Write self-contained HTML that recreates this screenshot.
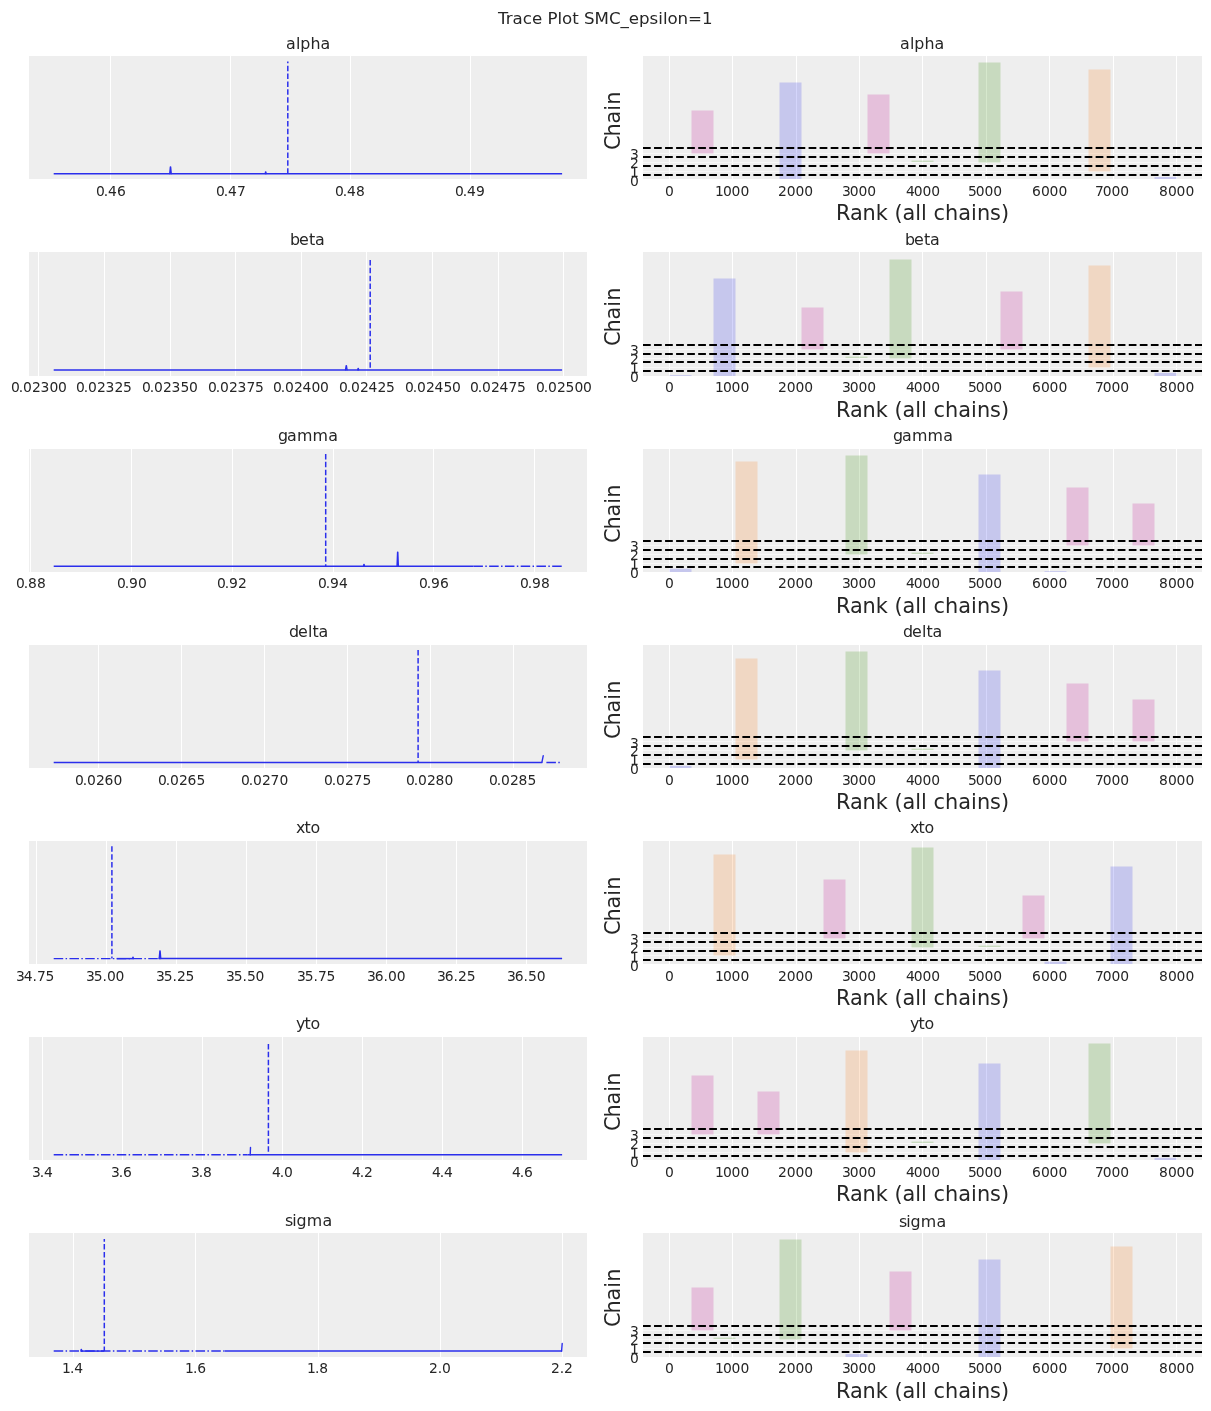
<!DOCTYPE html>
<html lang="en">
<head>
<meta charset="utf-8">
<title>Trace Plot SMC_epsilon=1</title>
<style>
html,body{margin:0;padding:0;background:#fff;}
body{width:1211px;height:1411px;overflow:hidden;}
svg{display:block;}
text{white-space:pre;}
</style>
</head>
<body>
<svg width="1211" height="1411" viewBox="0 0 1211 1411" role="img" aria-label="Trace Plot SMC_epsilon=1" font-family='"DejaVu Sans", "Liberation Sans", sans-serif' fill="#262626">
<rect width="1211" height="1411" fill="#ffffff"/>
<defs>
<clipPath id="cl0"><rect x="29" y="56" width="558" height="123"/></clipPath>
<clipPath id="cr0"><rect x="643" y="56" width="559" height="123"/></clipPath>
<clipPath id="cl1"><rect x="29" y="252" width="558" height="124"/></clipPath>
<clipPath id="cr1"><rect x="643" y="252" width="559" height="124"/></clipPath>
<clipPath id="cl2"><rect x="29" y="449" width="558" height="123"/></clipPath>
<clipPath id="cr2"><rect x="643" y="449" width="559" height="123"/></clipPath>
<clipPath id="cl3"><rect x="29" y="645" width="558" height="123"/></clipPath>
<clipPath id="cr3"><rect x="643" y="645" width="559" height="123"/></clipPath>
<clipPath id="cl4"><rect x="29" y="841" width="558" height="123"/></clipPath>
<clipPath id="cr4"><rect x="643" y="841" width="559" height="123"/></clipPath>
<clipPath id="cl5"><rect x="29" y="1037" width="558" height="123"/></clipPath>
<clipPath id="cr5"><rect x="643" y="1037" width="559" height="123"/></clipPath>
<clipPath id="cl6"><rect x="29" y="1233" width="558" height="124"/></clipPath>
<clipPath id="cr6"><rect x="643" y="1233" width="559" height="124"/></clipPath>
</defs>
<text x="498 505.75 512.62 522.75 531.88 542.12 547.38 557.5 562.12 572.25 578.75 584 594.5 608.88 620.38 628.75 639 649.5 658.25 662.88 667.5 677.62 688.12 702" y="24" font-size="16.67">Trace Plot SMC_epsilon=1</text>
<g id="row0">
<rect x="29" y="56" width="558" height="123" fill="#eeeeee"/>
<g clip-path="url(#cl0)">
<path d="M110.5 56V179M230.5 56V179M350.5 56V179M470.5 56V179" stroke="#fff" stroke-width="1.1" fill="none"/>
<path d="M53.7 173.7H562.1" stroke="#2a2eec" stroke-width="1.5" fill="none"/>
<path d="M169.7 173.7L170.35 166.8L170.65 166.8L171.3 173.7" fill="none" stroke="#2a2eec" stroke-width="1.3" stroke-linejoin="round" stroke-linecap="round"/>
<path d="M265.2 173.7L265.55 171.9L265.85 171.9L266.2 173.7" fill="none" stroke="#2a2eec" stroke-width="1.3" stroke-linejoin="round" stroke-linecap="round"/>
<path d="M287.8 61.6V173.7" stroke="#2a2eec" stroke-width="1.49" stroke-dasharray="5.5 2.38" stroke-dashoffset="3.75" fill="none"/>
</g>
<text x="286 295.88 300.25 310.38 320.5" y="49" font-size="15.87">alpha</text>
<text x="96 103.75 108.12 116.88" y="196" font-size="13.89">0.46</text>
<text x="216 223.75 228.12 236.88" y="196" font-size="13.89">0.47</text>
<text x="335 342.75 347.12 355.88" y="196" font-size="13.89">0.48</text>
<text x="455 462.75 467.12 475.88" y="196" font-size="13.89">0.49</text>
<rect x="643" y="56" width="559" height="123" fill="#eeeeee"/>
<g clip-path="url(#cr0)">
<path d="M669.5 56V179M732.5 56V179M796.5 56V179M859.5 56V179M922.5 56V179M986.5 56V179M1049.5 56V179M1113.5 56V179M1176.5 56V179" stroke="#fff" stroke-width="1.1" fill="none"/>
<path d="M643 153.5H1202M643 162.5H1202M643 171.5H1202" stroke="#f7f7f7" stroke-width="1.1" fill="none"/>
<rect x="691.5" y="110.5" width="22" height="43" fill="#c10c90" fill-opacity="0.2"/>
<rect x="779.5" y="82.5" width="22" height="98.5" fill="#2a2eec" fill-opacity="0.2"/>
<rect x="867.5" y="94.5" width="22" height="59" fill="#c10c90" fill-opacity="0.2"/>
<rect x="911.5" y="160.6" width="22" height="1.4" fill="#328c06" fill-opacity="0.2"/>
<rect x="978.5" y="62.5" width="22" height="100" fill="#328c06" fill-opacity="0.2"/>
<rect x="1088.5" y="69.5" width="22" height="102" fill="#fa7c17" fill-opacity="0.2"/>
<rect x="1154.5" y="177" width="22" height="4" fill="#2a2eec" fill-opacity="0.2"/>
<path d="M643 148H1202M643 157H1202M643 166H1202M643 175H1202" stroke="#000" stroke-width="2.08" stroke-dasharray="7.71 3.33" fill="none"/>
</g>
<text x="900 909.88 914.25 924.38 934.5" y="49" font-size="15.87">alpha</text>
<text x="665" y="196" font-size="13.89">0</text>
<text x="715 722.88 731.62 740.38" y="196" font-size="13.89">1000</text>
<text x="778 786.75 795.5 804.25" y="196" font-size="13.89">2000</text>
<text x="842 849.75 858.5 867.25" y="196" font-size="13.89">3000</text>
<text x="906 913.75 922.5 931.25" y="196" font-size="13.89">4000</text>
<text x="968 975.75 984.5 993.25" y="196" font-size="13.89">5000</text>
<text x="1032 1040.88 1049.62 1058.38" y="196" font-size="13.89">6000</text>
<text x="1095 1102.75 1111.5 1120.25" y="196" font-size="13.89">7000</text>
<text x="1159 1167.88 1176.62 1185.38" y="196" font-size="13.89">8000</text>
<text x="638.8" y="185.8" font-size="13.89" text-anchor="end">0</text>
<text x="638.8" y="176.8" font-size="13.89" text-anchor="end">1</text>
<text x="638.8" y="167.8" font-size="13.89" text-anchor="end">2</text>
<text x="638.8" y="158.8" font-size="13.89" text-anchor="end">3</text>
<text x="836 849.88 862.62 875.75 887.75 894.38 902.5 915.25 921.12 927 933.62 945.12 958.25 971 976.88 990 1000.88" y="220" font-size="20.83">Rank (all chains)</text>
<text transform="translate(620 149) rotate(-90)" x="-1 12.5 25.62 38.38 44.25" y="0" font-size="20.83">Chain</text>
</g>
<g id="row1">
<rect x="29" y="252" width="558" height="124" fill="#eeeeee"/>
<g clip-path="url(#cl1)">
<path d="M38.5 252V376M104.5 252V376M170.5 252V376M235.5 252V376M301.5 252V376M366.5 252V376M432.5 252V376M498.5 252V376M563.5 252V376" stroke="#fff" stroke-width="1.1" fill="none"/>
<path d="M53.7 369.93H562.1" stroke="#2a2eec" stroke-width="1.5" fill="none"/>
<path d="M345.5 369.93L346.15 365.53L346.45 365.53L347.1 369.93" fill="none" stroke="#2a2eec" stroke-width="1.3" stroke-linejoin="round" stroke-linecap="round"/>
<path d="M357.7 369.93L358.05 368.33L358.35 368.33L358.7 369.93" fill="none" stroke="#2a2eec" stroke-width="1.3" stroke-linejoin="round" stroke-linecap="round"/>
<path d="M370.2 257.83V369.93" stroke="#2a2eec" stroke-width="1.49" stroke-dasharray="5.5 2.38" stroke-dashoffset="5.81" fill="none"/>
</g>
<text x="290 299.12 309 315.12" y="245" font-size="15.87">beta</text>
<text x="11 18.75 23.12 31.88 40.62 49.38 58.12" y="392" font-size="13.89">0.02300</text>
<text x="76 83.75 88.12 96.88 105.62 114.38 123.12" y="392" font-size="13.89">0.02325</text>
<text x="142 149.75 154.12 162.88 171.62 180.38 189.12" y="392" font-size="13.89">0.02350</text>
<text x="208 215.75 220.12 228.88 237.62 246.38 255.12" y="392" font-size="13.89">0.02375</text>
<text x="273 280.75 285.12 293.88 302.62 311.38 320.12" y="392" font-size="13.89">0.02400</text>
<text x="339 346.75 351.12 359.88 368.62 377.38 386.12" y="392" font-size="13.89">0.02425</text>
<text x="405 412.75 417.12 425.88 434.62 443.38 452.12" y="392" font-size="13.89">0.02450</text>
<text x="470 477.75 482.12 490.88 499.62 508.38 517.12" y="392" font-size="13.89">0.02475</text>
<text x="536 543.75 548.12 556.88 565.62 574.38 583.12" y="392" font-size="13.89">0.02500</text>
<rect x="643" y="252" width="559" height="124" fill="#eeeeee"/>
<g clip-path="url(#cr1)">
<path d="M669.5 252V376M732.5 252V376M796.5 252V376M859.5 252V376M922.5 252V376M986.5 252V376M1049.5 252V376M1113.5 252V376M1176.5 252V376" stroke="#fff" stroke-width="1.1" fill="none"/>
<path d="M643 349.5H1202M643 358.5H1202M643 367.5H1202" stroke="#f7f7f7" stroke-width="1.1" fill="none"/>
<rect x="669.5" y="375.15" width="22" height="2.85" fill="#2a2eec" fill-opacity="0.2"/>
<rect x="713.5" y="278.5" width="22" height="99.5" fill="#2a2eec" fill-opacity="0.2"/>
<rect x="801.5" y="307.5" width="22" height="42" fill="#c10c90" fill-opacity="0.2"/>
<rect x="845.5" y="356.6" width="22" height="1.4" fill="#328c06" fill-opacity="0.2"/>
<rect x="889.5" y="259.5" width="22" height="99" fill="#328c06" fill-opacity="0.2"/>
<rect x="1000.5" y="291.5" width="22" height="58" fill="#c10c90" fill-opacity="0.2"/>
<rect x="1088.5" y="265.5" width="22" height="102" fill="#fa7c17" fill-opacity="0.2"/>
<rect x="1154.5" y="372.9" width="22" height="5.1" fill="#2a2eec" fill-opacity="0.2"/>
<path d="M643 345H1202M643 354H1202M643 362H1202M643 371H1202" stroke="#000" stroke-width="2.08" stroke-dasharray="7.71 3.33" fill="none"/>
</g>
<text x="905 914.12 924 930.12" y="245" font-size="15.87">beta</text>
<text x="665" y="392" font-size="13.89">0</text>
<text x="715 722.88 731.62 740.38" y="392" font-size="13.89">1000</text>
<text x="778 786.75 795.5 804.25" y="392" font-size="13.89">2000</text>
<text x="842 849.75 858.5 867.25" y="392" font-size="13.89">3000</text>
<text x="906 913.75 922.5 931.25" y="392" font-size="13.89">4000</text>
<text x="968 975.75 984.5 993.25" y="392" font-size="13.89">5000</text>
<text x="1032 1040.88 1049.62 1058.38" y="392" font-size="13.89">6000</text>
<text x="1095 1102.75 1111.5 1120.25" y="392" font-size="13.89">7000</text>
<text x="1159 1167.88 1176.62 1185.38" y="392" font-size="13.89">8000</text>
<text x="638.8" y="381.85" font-size="13.89" text-anchor="end">0</text>
<text x="638.8" y="372.8" font-size="13.89" text-anchor="end">1</text>
<text x="638.8" y="363.75" font-size="13.89" text-anchor="end">2</text>
<text x="638.8" y="354.7" font-size="13.89" text-anchor="end">3</text>
<text x="836 849.88 862.62 875.75 887.75 894.38 902.5 915.25 921.12 927 933.62 945.12 958.25 971 976.88 990 1000.88" y="417" font-size="20.83">Rank (all chains)</text>
<text transform="translate(620 345) rotate(-90)" x="-1 12.5 25.62 38.38 44.25" y="0" font-size="20.83">Chain</text>
</g>
<g id="row2">
<rect x="29" y="449" width="558" height="123" fill="#eeeeee"/>
<g clip-path="url(#cl2)">
<path d="M30.5 449V572M131.5 449V572M232.5 449V572M333.5 449V572M433.5 449V572M534.5 449V572" stroke="#fff" stroke-width="1.1" fill="none"/>
<path d="M473.4 566.16H562.1" stroke="#2a2eec" stroke-width="1.49" stroke-dasharray="9.51 2.38 1.49 2.38" fill="none"/>
<path d="M53.7 566.16H473.4" stroke="#2a2eec" stroke-width="1.5" fill="none"/>
<path d="M397 566.16L397.55 552.06L397.85 552.06L398.4 566.16" fill="none" stroke="#2a2eec" stroke-width="1.3" stroke-linejoin="round" stroke-linecap="round"/>
<path d="M363.5 566.16L363.85 564.46L364.15 564.46L364.5 566.16" fill="none" stroke="#2a2eec" stroke-width="1.3" stroke-linejoin="round" stroke-linecap="round"/>
<path d="M325.7 453.93V566.16" stroke="#2a2eec" stroke-width="1.49" stroke-dasharray="5.5 2.38" stroke-dashoffset="0" fill="none"/>
</g>
<text x="278 287.12 297 312.62 328.25" y="441" font-size="15.87">gamma</text>
<text x="16 23.75 28.12 37" y="588" font-size="13.89">0.88</text>
<text x="117 124.75 129.12 138" y="588" font-size="13.89">0.90</text>
<text x="217 224.75 229.12 238" y="588" font-size="13.89">0.92</text>
<text x="318 325.75 330.12 339" y="588" font-size="13.89">0.94</text>
<text x="419 426.75 431.12 440" y="588" font-size="13.89">0.96</text>
<text x="520 527.75 532.12 541" y="588" font-size="13.89">0.98</text>
<rect x="643" y="449" width="559" height="123" fill="#eeeeee"/>
<g clip-path="url(#cr2)">
<path d="M669.5 449V572M732.5 449V572M796.5 449V572M859.5 449V572M922.5 449V572M986.5 449V572M1049.5 449V572M1113.5 449V572M1176.5 449V572" stroke="#fff" stroke-width="1.1" fill="none"/>
<path d="M643 545.5H1202M643 554.5H1202M643 563.5H1202" stroke="#f7f7f7" stroke-width="1.1" fill="none"/>
<rect x="669.5" y="568.7" width="22" height="5.3" fill="#2a2eec" fill-opacity="0.2"/>
<rect x="735.5" y="461.5" width="22" height="102" fill="#fa7c17" fill-opacity="0.2"/>
<rect x="845.5" y="455.5" width="22" height="99" fill="#328c06" fill-opacity="0.2"/>
<rect x="911.5" y="552.6" width="22" height="1.4" fill="#328c06" fill-opacity="0.2"/>
<rect x="978.5" y="474.5" width="22" height="99.5" fill="#2a2eec" fill-opacity="0.2"/>
<rect x="1044.5" y="571.15" width="22" height="2.85" fill="#2a2eec" fill-opacity="0.2"/>
<rect x="1066.5" y="487.5" width="22" height="58" fill="#c10c90" fill-opacity="0.2"/>
<rect x="1132.5" y="503.5" width="22" height="42" fill="#c10c90" fill-opacity="0.2"/>
<path d="M643 541H1202M643 550H1202M643 559H1202M643 567H1202" stroke="#000" stroke-width="2.08" stroke-dasharray="7.71 3.33" fill="none"/>
</g>
<text x="893 902.12 912 927.62 943.25" y="441" font-size="15.87">gamma</text>
<text x="665" y="588" font-size="13.89">0</text>
<text x="715 722.88 731.62 740.38" y="588" font-size="13.89">1000</text>
<text x="778 786.75 795.5 804.25" y="588" font-size="13.89">2000</text>
<text x="842 849.75 858.5 867.25" y="588" font-size="13.89">3000</text>
<text x="906 913.75 922.5 931.25" y="588" font-size="13.89">4000</text>
<text x="968 975.75 984.5 993.25" y="588" font-size="13.89">5000</text>
<text x="1032 1040.88 1049.62 1058.38" y="588" font-size="13.89">6000</text>
<text x="1095 1102.75 1111.5 1120.25" y="588" font-size="13.89">7000</text>
<text x="1159 1167.88 1176.62 1185.38" y="588" font-size="13.89">8000</text>
<text x="638.8" y="577.85" font-size="13.89" text-anchor="end">0</text>
<text x="638.8" y="568.8" font-size="13.89" text-anchor="end">1</text>
<text x="638.8" y="559.75" font-size="13.89" text-anchor="end">2</text>
<text x="638.8" y="550.7" font-size="13.89" text-anchor="end">3</text>
<text x="836 849.88 862.62 875.75 887.75 894.38 902.5 915.25 921.12 927 933.62 945.12 958.25 971 976.88 990 1000.88" y="613" font-size="20.83">Rank (all chains)</text>
<text transform="translate(620 542) rotate(-90)" x="-1 12.5 25.62 38.38 44.25" y="0" font-size="20.83">Chain</text>
</g>
<g id="row3">
<rect x="29" y="645" width="558" height="123" fill="#eeeeee"/>
<g clip-path="url(#cl3)">
<path d="M98.5 645V768M181.5 645V768M264.5 645V768M347.5 645V768M430.5 645V768M513.5 645V768" stroke="#fff" stroke-width="1.1" fill="none"/>
<path d="M546.4 762.39H560.2" stroke="#2a2eec" stroke-width="1.49" stroke-dasharray="9.51 2.38 1.49 2.38" fill="none"/>
<path d="M53.7 762.39H542.3" stroke="#2a2eec" stroke-width="1.5" fill="none"/>
<path d="M541.9 762.39L543.2 755.79" fill="none" stroke="#2a2eec" stroke-width="1.4" stroke-linecap="round"/>
<path d="M418.1 650.1V762.39" stroke="#2a2eec" stroke-width="1.49" stroke-dasharray="5.5 2.38" stroke-dashoffset="0" fill="none"/>
</g>
<text x="289 298.12 308 312.38 318.5" y="637" font-size="15.87">delta</text>
<text x="75 82.75 87.12 95.88 104.62 113.5" y="785" font-size="13.89">0.0260</text>
<text x="158 165.75 170.12 178.88 187.62 196.5" y="785" font-size="13.89">0.0265</text>
<text x="241 248.75 253.12 261.88 270.62 279.38" y="785" font-size="13.89">0.0270</text>
<text x="324 331.75 336.12 344.88 353.62 362.38" y="785" font-size="13.89">0.0275</text>
<text x="406 413.75 418.12 426.88 435.62 444.5" y="785" font-size="13.89">0.0280</text>
<text x="489 496.75 501.12 509.88 518.62 527.5" y="785" font-size="13.89">0.0285</text>
<rect x="643" y="645" width="559" height="123" fill="#eeeeee"/>
<g clip-path="url(#cr3)">
<path d="M669.5 645V768M732.5 645V768M796.5 645V768M859.5 645V768M922.5 645V768M986.5 645V768M1049.5 645V768M1113.5 645V768M1176.5 645V768" stroke="#fff" stroke-width="1.1" fill="none"/>
<path d="M643 741.5H1202M643 750.5H1202M643 759.5H1202" stroke="#f7f7f7" stroke-width="1.1" fill="none"/>
<rect x="669.5" y="765.9" width="22" height="4.1" fill="#2a2eec" fill-opacity="0.2"/>
<rect x="735.5" y="658.5" width="22" height="101" fill="#fa7c17" fill-opacity="0.2"/>
<rect x="845.5" y="651.5" width="22" height="99" fill="#328c06" fill-opacity="0.2"/>
<rect x="911.5" y="748.6" width="22" height="1.4" fill="#328c06" fill-opacity="0.2"/>
<rect x="978.5" y="670.5" width="22" height="99.5" fill="#2a2eec" fill-opacity="0.2"/>
<rect x="1066.5" y="683.5" width="22" height="58" fill="#c10c90" fill-opacity="0.2"/>
<rect x="1132.5" y="699.5" width="22" height="42" fill="#c10c90" fill-opacity="0.2"/>
<path d="M643 737H1202M643 746H1202M643 755H1202M643 764H1202" stroke="#000" stroke-width="2.08" stroke-dasharray="7.71 3.33" fill="none"/>
</g>
<text x="903 912.12 922 926.38 932.5" y="637" font-size="15.87">delta</text>
<text x="665" y="785" font-size="13.89">0</text>
<text x="715 722.88 731.62 740.38" y="785" font-size="13.89">1000</text>
<text x="778 786.75 795.5 804.25" y="785" font-size="13.89">2000</text>
<text x="842 849.75 858.5 867.25" y="785" font-size="13.89">3000</text>
<text x="906 913.75 922.5 931.25" y="785" font-size="13.89">4000</text>
<text x="968 975.75 984.5 993.25" y="785" font-size="13.89">5000</text>
<text x="1032 1040.88 1049.62 1058.38" y="785" font-size="13.89">6000</text>
<text x="1095 1102.75 1111.5 1120.25" y="785" font-size="13.89">7000</text>
<text x="1159 1167.88 1176.62 1185.38" y="785" font-size="13.89">8000</text>
<text x="638.8" y="773.85" font-size="13.89" text-anchor="end">0</text>
<text x="638.8" y="765.17" font-size="13.89" text-anchor="end">1</text>
<text x="638.8" y="756.48" font-size="13.89" text-anchor="end">2</text>
<text x="638.8" y="747.8" font-size="13.89" text-anchor="end">3</text>
<text x="836 849.88 862.62 875.75 887.75 894.38 902.5 915.25 921.12 927 933.62 945.12 958.25 971 976.88 990 1000.88" y="809" font-size="20.83">Rank (all chains)</text>
<text transform="translate(620 738) rotate(-90)" x="-1 12.5 25.62 38.38 44.25" y="0" font-size="20.83">Chain</text>
</g>
<g id="row4">
<rect x="29" y="841" width="558" height="123" fill="#eeeeee"/>
<g clip-path="url(#cl4)">
<path d="M36.5 841V964M106.5 841V964M176.5 841V964M246.5 841V964M316.5 841V964M386.5 841V964M456.5 841V964M526.5 841V964" stroke="#fff" stroke-width="1.1" fill="none"/>
<path d="M53.7 958.62H158.5" stroke="#2a2eec" stroke-width="1.49" stroke-dasharray="9.51 2.38 1.49 2.38" fill="none"/>
<path d="M158.5 958.62H562.1" stroke="#2a2eec" stroke-width="1.5" fill="none"/>
<path d="M116.7 958.62H132.3" stroke="#2a2eec" stroke-width="1.5" fill="none"/>
<path d="M159.2 958.62L159.85 950.92L160.15 950.92L160.8 958.62" fill="none" stroke="#2a2eec" stroke-width="1.3" stroke-linejoin="round" stroke-linecap="round"/>
<path d="M132.5 958.62L132.85 957.22L133.15 957.22L133.5 958.62" fill="none" stroke="#2a2eec" stroke-width="1.3" stroke-linejoin="round" stroke-linecap="round"/>
<path d="M111.9 846.26V958.62" stroke="#2a2eec" stroke-width="1.49" stroke-dasharray="5.5 2.38" stroke-dashoffset="0" fill="none"/>
</g>
<text x="296 304.38 310.5" y="833" font-size="15.87">xto</text>
<text x="16 23.75 32.5 36.88 45.62" y="981" font-size="13.89">34.75</text>
<text x="86 93.75 102.5 106.88 115.62" y="981" font-size="13.89">35.00</text>
<text x="156 163.75 172.5 176.88 185.62" y="981" font-size="13.89">35.25</text>
<text x="226 233.75 242.5 246.88 255.62" y="981" font-size="13.89">35.50</text>
<text x="297 304.75 313.5 317.88 326.62" y="981" font-size="13.89">35.75</text>
<text x="367 374.75 383.62 388 396.75" y="981" font-size="13.89">36.00</text>
<text x="437 444.75 453.62 458 466.75" y="981" font-size="13.89">36.25</text>
<text x="507 514.75 523.62 528 536.75" y="981" font-size="13.89">36.50</text>
<rect x="643" y="841" width="559" height="123" fill="#eeeeee"/>
<g clip-path="url(#cr4)">
<path d="M669.5 841V964M732.5 841V964M796.5 841V964M859.5 841V964M922.5 841V964M986.5 841V964M1049.5 841V964M1113.5 841V964M1176.5 841V964" stroke="#fff" stroke-width="1.1" fill="none"/>
<path d="M643 938.5H1202M643 947.5H1202M643 955.5H1202" stroke="#f7f7f7" stroke-width="1.1" fill="none"/>
<rect x="713.5" y="854.5" width="22" height="101" fill="#fa7c17" fill-opacity="0.2"/>
<rect x="823.5" y="879.5" width="22" height="59" fill="#c10c90" fill-opacity="0.2"/>
<rect x="911.5" y="847.5" width="22" height="100" fill="#328c06" fill-opacity="0.2"/>
<rect x="978.5" y="945.6" width="22" height="1.4" fill="#328c06" fill-opacity="0.2"/>
<rect x="1022.5" y="895.5" width="22" height="43" fill="#c10c90" fill-opacity="0.2"/>
<rect x="1044.5" y="961.7" width="22" height="4.3" fill="#2a2eec" fill-opacity="0.2"/>
<rect x="1110.5" y="866.5" width="22" height="99.5" fill="#2a2eec" fill-opacity="0.2"/>
<path d="M643 933H1202M643 942H1202M643 951H1202M643 960H1202" stroke="#000" stroke-width="2.08" stroke-dasharray="7.71 3.33" fill="none"/>
</g>
<text x="910 918.38 924.5" y="833" font-size="15.87">xto</text>
<text x="665" y="981" font-size="13.89">0</text>
<text x="715 722.88 731.62 740.38" y="981" font-size="13.89">1000</text>
<text x="778 786.75 795.5 804.25" y="981" font-size="13.89">2000</text>
<text x="842 849.75 858.5 867.25" y="981" font-size="13.89">3000</text>
<text x="906 913.75 922.5 931.25" y="981" font-size="13.89">4000</text>
<text x="968 975.75 984.5 993.25" y="981" font-size="13.89">5000</text>
<text x="1032 1040.88 1049.62 1058.38" y="981" font-size="13.89">6000</text>
<text x="1095 1102.75 1111.5 1120.25" y="981" font-size="13.89">7000</text>
<text x="1159 1167.88 1176.62 1185.38" y="981" font-size="13.89">8000</text>
<text x="638.8" y="970.55" font-size="13.89" text-anchor="end">0</text>
<text x="638.8" y="961.63" font-size="13.89" text-anchor="end">1</text>
<text x="638.8" y="952.72" font-size="13.89" text-anchor="end">2</text>
<text x="638.8" y="943.8" font-size="13.89" text-anchor="end">3</text>
<text x="836 849.88 862.62 875.75 887.75 894.38 902.5 915.25 921.12 927 933.62 945.12 958.25 971 976.88 990 1000.88" y="1005" font-size="20.83">Rank (all chains)</text>
<text transform="translate(620 934) rotate(-90)" x="-1 12.5 25.62 38.38 44.25" y="0" font-size="20.83">Chain</text>
</g>
<g id="row5">
<rect x="29" y="1037" width="558" height="123" fill="#eeeeee"/>
<g clip-path="url(#cl5)">
<path d="M42.5 1037V1160M122.5 1037V1160M202.5 1037V1160M282.5 1037V1160M362.5 1037V1160M442.5 1037V1160M522.5 1037V1160" stroke="#fff" stroke-width="1.1" fill="none"/>
<path d="M53.7 1154.85H247.7" stroke="#2a2eec" stroke-width="1.49" stroke-dasharray="9.51 2.38 1.49 2.38" fill="none"/>
<path d="M247.7 1154.85H562.1" stroke="#2a2eec" stroke-width="1.5" fill="none"/>
<path d="M250.2 1154.85L250.5 1147.45" fill="none" stroke="#2a2eec" stroke-width="1.4" stroke-linecap="round"/>
<path d="M268.4 1042.75V1154.85" stroke="#2a2eec" stroke-width="1.49" stroke-dasharray="5.5 2.38" stroke-dashoffset="6.73" fill="none"/>
</g>
<text x="296 304.38 310.5" y="1029" font-size="15.87">yto</text>
<text x="32 39.75 44.12" y="1177" font-size="13.89">3.4</text>
<text x="111 118.75 123.12" y="1177" font-size="13.89">3.6</text>
<text x="191 198.75 203.12" y="1177" font-size="13.89">3.8</text>
<text x="272 279.75 284.12" y="1177" font-size="13.89">4.0</text>
<text x="352 359.75 364.12" y="1177" font-size="13.89">4.2</text>
<text x="432 439.75 444.12" y="1177" font-size="13.89">4.4</text>
<text x="512 519.75 524.12" y="1177" font-size="13.89">4.6</text>
<rect x="643" y="1037" width="559" height="123" fill="#eeeeee"/>
<g clip-path="url(#cr5)">
<path d="M669.5 1037V1160M732.5 1037V1160M796.5 1037V1160M859.5 1037V1160M922.5 1037V1160M986.5 1037V1160M1049.5 1037V1160M1113.5 1037V1160M1176.5 1037V1160" stroke="#fff" stroke-width="1.1" fill="none"/>
<path d="M643 1134.5H1202M643 1143.5H1202M643 1152.5H1202" stroke="#f7f7f7" stroke-width="1.1" fill="none"/>
<rect x="691.5" y="1075.5" width="22" height="59" fill="#c10c90" fill-opacity="0.2"/>
<rect x="757.5" y="1091.5" width="22" height="43" fill="#c10c90" fill-opacity="0.2"/>
<rect x="845.5" y="1050.5" width="22" height="102" fill="#fa7c17" fill-opacity="0.2"/>
<rect x="911.5" y="1141.6" width="22" height="1.4" fill="#328c06" fill-opacity="0.2"/>
<rect x="978.5" y="1063.5" width="22" height="98.5" fill="#2a2eec" fill-opacity="0.2"/>
<rect x="1088.5" y="1043.5" width="22" height="100" fill="#328c06" fill-opacity="0.2"/>
<rect x="1154.5" y="1157.9" width="22" height="4.1" fill="#2a2eec" fill-opacity="0.2"/>
<path d="M643 1129H1202M643 1138H1202M643 1147H1202M643 1156H1202" stroke="#000" stroke-width="2.08" stroke-dasharray="7.71 3.33" fill="none"/>
</g>
<text x="910 918.38 924.5" y="1029" font-size="15.87">yto</text>
<text x="665" y="1177" font-size="13.89">0</text>
<text x="715 722.88 731.62 740.38" y="1177" font-size="13.89">1000</text>
<text x="778 786.75 795.5 804.25" y="1177" font-size="13.89">2000</text>
<text x="842 849.75 858.5 867.25" y="1177" font-size="13.89">3000</text>
<text x="906 913.75 922.5 931.25" y="1177" font-size="13.89">4000</text>
<text x="968 975.75 984.5 993.25" y="1177" font-size="13.89">5000</text>
<text x="1032 1040.88 1049.62 1058.38" y="1177" font-size="13.89">6000</text>
<text x="1095 1102.75 1111.5 1120.25" y="1177" font-size="13.89">7000</text>
<text x="1159 1167.88 1176.62 1185.38" y="1177" font-size="13.89">8000</text>
<text x="638.8" y="1166.55" font-size="13.89" text-anchor="end">0</text>
<text x="638.8" y="1157.63" font-size="13.89" text-anchor="end">1</text>
<text x="638.8" y="1148.72" font-size="13.89" text-anchor="end">2</text>
<text x="638.8" y="1139.8" font-size="13.89" text-anchor="end">3</text>
<text x="836 849.88 862.62 875.75 887.75 894.38 902.5 915.25 921.12 927 933.62 945.12 958.25 971 976.88 990 1000.88" y="1201" font-size="20.83">Rank (all chains)</text>
<text transform="translate(620 1130) rotate(-90)" x="-1 12.5 25.62 38.38 44.25" y="0" font-size="20.83">Chain</text>
</g>
<g id="row6">
<rect x="29" y="1233" width="558" height="124" fill="#eeeeee"/>
<g clip-path="url(#cl6)">
<path d="M73.5 1233V1357M195.5 1233V1357M318.5 1233V1357M440.5 1233V1357M562.5 1233V1357" stroke="#fff" stroke-width="1.1" fill="none"/>
<path d="M53.7 1351.08H225" stroke="#2a2eec" stroke-width="1.49" stroke-dasharray="9.51 2.38 1.49 2.38" fill="none"/>
<path d="M225 1351.08H562.1" stroke="#2a2eec" stroke-width="1.5" fill="none"/>
<path d="M81 1351.08H104.3" stroke="#2a2eec" stroke-width="1.5" fill="none"/>
<path d="M80.8 1351.08L81.15 1349.48L81.45 1349.48L81.8 1351.08" fill="none" stroke="#2a2eec" stroke-width="1.3" stroke-linejoin="round" stroke-linecap="round"/>
<path d="M561.6 1351.08L562.2 1343.48" fill="none" stroke="#2a2eec" stroke-width="1.4" stroke-linecap="round"/>
<path d="M104.3 1238.98V1351.08" stroke="#2a2eec" stroke-width="1.49" stroke-dasharray="5.5 2.38" stroke-dashoffset="2.82" fill="none"/>
</g>
<text x="285 292.25 296.62 306.75 322.38" y="1226" font-size="15.87">sigma</text>
<text x="62 69.88 74.25" y="1373" font-size="13.89">1.4</text>
<text x="185 192.88 197.25" y="1373" font-size="13.89">1.6</text>
<text x="307 314.88 319.25" y="1373" font-size="13.89">1.8</text>
<text x="429 437.75 442.12" y="1373" font-size="13.89">2.0</text>
<text x="551 559.75 564.12" y="1373" font-size="13.89">2.2</text>
<rect x="643" y="1233" width="559" height="124" fill="#eeeeee"/>
<g clip-path="url(#cr6)">
<path d="M669.5 1233V1357M732.5 1233V1357M796.5 1233V1357M859.5 1233V1357M922.5 1233V1357M986.5 1233V1357M1049.5 1233V1357M1113.5 1233V1357M1176.5 1233V1357" stroke="#fff" stroke-width="1.1" fill="none"/>
<path d="M643 1330.5H1202M643 1339.5H1202M643 1348.5H1202" stroke="#f7f7f7" stroke-width="1.1" fill="none"/>
<rect x="691.5" y="1287.5" width="22" height="43" fill="#c10c90" fill-opacity="0.2"/>
<rect x="713.5" y="1337.6" width="22" height="1.4" fill="#328c06" fill-opacity="0.2"/>
<rect x="779.5" y="1239.5" width="22" height="100" fill="#328c06" fill-opacity="0.2"/>
<rect x="845.5" y="1354" width="22" height="5" fill="#2a2eec" fill-opacity="0.2"/>
<rect x="889.5" y="1271.5" width="22" height="59" fill="#c10c90" fill-opacity="0.2"/>
<rect x="978.5" y="1259.5" width="22" height="99.5" fill="#2a2eec" fill-opacity="0.2"/>
<rect x="1110.5" y="1246.5" width="22" height="102" fill="#fa7c17" fill-opacity="0.2"/>
<path d="M643 1326H1202M643 1335H1202M643 1343H1202M643 1352H1202" stroke="#000" stroke-width="2.08" stroke-dasharray="7.71 3.33" fill="none"/>
</g>
<text x="899 906.25 910.62 920.75 936.38" y="1227" font-size="15.87">sigma</text>
<text x="665" y="1373" font-size="13.89">0</text>
<text x="715 722.88 731.62 740.38" y="1373" font-size="13.89">1000</text>
<text x="778 786.75 795.5 804.25" y="1373" font-size="13.89">2000</text>
<text x="842 849.75 858.5 867.25" y="1373" font-size="13.89">3000</text>
<text x="906 913.75 922.5 931.25" y="1373" font-size="13.89">4000</text>
<text x="968 975.75 984.5 993.25" y="1373" font-size="13.89">5000</text>
<text x="1032 1040.88 1049.62 1058.38" y="1373" font-size="13.89">6000</text>
<text x="1095 1102.75 1111.5 1120.25" y="1373" font-size="13.89">7000</text>
<text x="1159 1167.88 1176.62 1185.38" y="1373" font-size="13.89">8000</text>
<text x="638.8" y="1362.55" font-size="13.89" text-anchor="end">0</text>
<text x="638.8" y="1353.63" font-size="13.89" text-anchor="end">1</text>
<text x="638.8" y="1344.72" font-size="13.89" text-anchor="end">2</text>
<text x="638.8" y="1335.8" font-size="13.89" text-anchor="end">3</text>
<text x="836 849.88 862.62 875.75 887.75 894.38 902.5 915.25 921.12 927 933.62 945.12 958.25 971 976.88 990 1000.88" y="1398" font-size="20.83">Rank (all chains)</text>
<text transform="translate(620 1326) rotate(-90)" x="-1 12.5 25.62 38.38 44.25" y="0" font-size="20.83">Chain</text>
</g>
</svg>
</body>
</html>
